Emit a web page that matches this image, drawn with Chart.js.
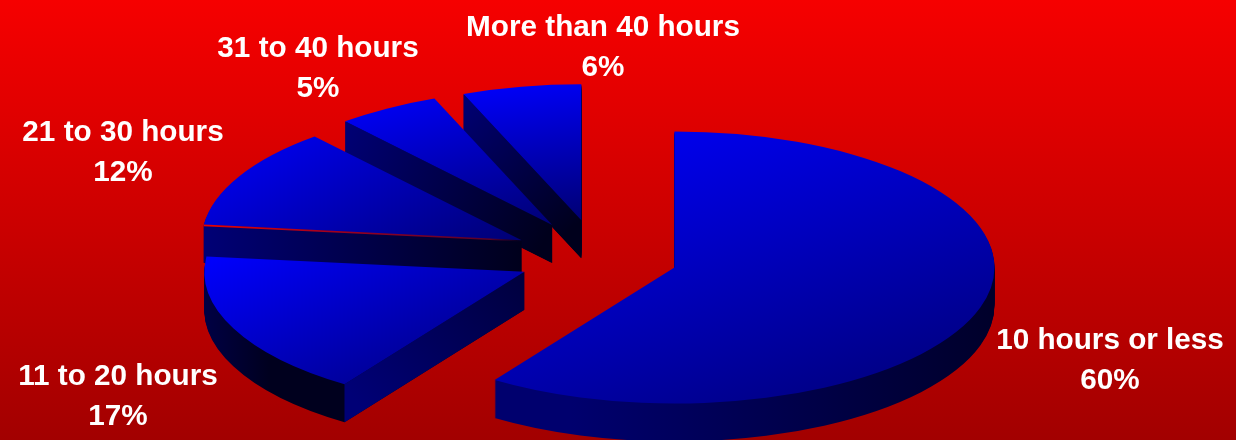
<!DOCTYPE html>
<html>
<head>
<meta charset="utf-8">
<style>
  html, body { margin: 0; padding: 0; background: #c00; }
  #box { width: 1236px; height: 440px; }
</style>
<script src="https://cdn.jsdelivr.net/npm/chart.js@4"></script>
</head>
<body>
<div id="box"><canvas id="pie"></canvas></div>
<script>
const categories = ["10 hours or less", "11 to 20 hours", "21 to 30 hours", "31 to 40 hours", "More than 40 hours"];
// the labels show them rounded
const shares = [59.5, 17.3, 12, 5.2, 6];

// how the flat pie gets tilted and pulled apart
const squash = 0.425;
const depth = 38;
const explode = [80, 81, 86.5, 89, 89];
// label centre x and first baseline
const labelSpots = [[1110, 349], [118, 385], [123, 141], [318, 57], [603, 36]];
const seamSlice = 2;

function bbox(arc) {
    const xs = [Math.cos(arc.startAngle), Math.cos(arc.endAngle), 0];
    const ys = [Math.sin(arc.startAngle), Math.sin(arc.endAngle), 0];
    for (let a = -Math.PI; a <= 2 * Math.PI; a += Math.PI / 2) {
        if (a > arc.startAngle && a < arc.endAngle) {
            xs.push(Math.cos(a));
            ys.push(Math.sin(a));
        }
    }
    const r = arc.outerRadius;
    return {
        x0: arc.x + Math.min(...xs) * r, x1: arc.x + Math.max(...xs) * r,
        y0: arc.y + Math.min(...ys) * r, y1: arc.y + Math.max(...ys) * r
    };
}

function drawArc(ctx, arc, i, drop, fill) {
    const mid = (arc.startAngle + arc.endAngle) / 2;
    const copy = Object.create(arc);
    copy.options = {
        backgroundColor: fill, borderColor: "transparent", borderWidth: 0,
        borderAlign: "center", borderRadius: 0, offset: 0, spacing: 0, circular: true
    };
    ctx.save();
    ctx.translate(arc.x, arc.y + drop);
    ctx.scale(1, squash);
    ctx.translate(-arc.x, -arc.y);
    ctx.translate(Math.cos(mid) * explode[i], Math.sin(mid) * explode[i]);
    copy.draw(ctx);
    ctx.restore();
}

function screenPoint(arc, i, ang, r, drop) {
    const mid = (arc.startAngle + arc.endAngle) / 2;
    return {
        x: arc.x + Math.cos(mid) * explode[i] + Math.cos(ang) * r,
        y: arc.y + (Math.sin(mid) * explode[i] + Math.sin(ang) * r) * squash + drop
    };
}

function drawCut(ctx, arc, i, ang) {
    const a = screenPoint(arc, i, ang, 0, 0);
    const b = screenPoint(arc, i, ang, arc.outerRadius, 0);
    const g = ctx.createLinearGradient(b.x, b.y, a.x, a.y);
    g.addColorStop(0, "rgb(0,0,118)");
    g.addColorStop(1, i === 1 ? "rgb(0,0,62)" : "rgb(0,0,28)");
    ctx.fillStyle = g;
    ctx.beginPath();
    ctx.moveTo(a.x, a.y);
    ctx.lineTo(b.x, b.y);
    ctx.lineTo(b.x, b.y + depth);
    ctx.lineTo(a.x, a.y + depth);
    ctx.closePath();
    ctx.fill();
}

const tiltedPie = {
    id: "tiltedPie",
    beforeDraw(chart) {
        const ctx = chart.ctx;
        const g = ctx.createLinearGradient(0, 0, 0, chart.height);
        g.addColorStop(0, "rgb(246,0,0)");
        g.addColorStop(1, "rgb(162,0,0)");
        ctx.fillStyle = g;
        ctx.fillRect(0, 0, chart.width, chart.height);
    },
    // default arc drawing is replaced, the arcs themselves still come from the controller
    beforeDatasetsDraw(chart) {
        const ctx = chart.ctx;
        const arcs = chart.getDatasetMeta(0).data;
        const order = [4, 3, 2, 1, 0];
        order.forEach(i => {
            const arc = arcs[i];
            const box = bbox(arc);

            // rim wall, only the part facing us sets the gradient span
            const lowStart = screenPoint(arc, i, Math.min(arc.endAngle, Math.PI), arc.outerRadius, 0);
            const lowEnd = screenPoint(arc, i, arc.startAngle < 0 && arc.endAngle > 0 ? 0 : Math.max(arc.startAngle, Math.PI / 2), arc.outerRadius, 0);
            const wall = ctx.createLinearGradient(lowStart.x, 0, lowEnd.x, 0);
            wall.addColorStop(0, "rgb(0,0,110)");
            wall.addColorStop(1, "rgb(0,0,30)");
            for (let d = depth; d > 0; d--) {
                drawArc(ctx, arc, i, d, wall);
            }

            // straight cut faces that turn toward the viewer
            if (Math.cos(arc.startAngle) < -0.001 || (i > 0 && Math.cos(arc.startAngle) > 0)) {
                drawCut(ctx, arc, i, arc.startAngle);
            }

            const top = ctx.createLinearGradient(box.x0, box.y0, box.x1, box.y1);
            top.addColorStop(0, "rgb(0,0,255)");
            top.addColorStop(1, "rgb(0,0,115)");
            drawArc(ctx, arc, i, 0, top);

            if (i === seamSlice) {
                const a = screenPoint(arc, i, arc.startAngle, 0, 0.5);
                const b = screenPoint(arc, i, arc.startAngle, arc.outerRadius, 0.5);
                const s = ctx.createLinearGradient(b.x, 0, a.x, 0);
                s.addColorStop(0, "rgba(235,0,0,1)");
                s.addColorStop(0.9, "rgba(150,0,40,0.6)");
                s.addColorStop(1, "rgba(100,0,60,0)");
                ctx.strokeStyle = s;
                ctx.lineWidth = 1.6;
                ctx.beginPath();
                ctx.moveTo(b.x, b.y);
                ctx.lineTo(a.x, a.y);
                ctx.stroke();
            }
        });
        return false;
    },
    afterDraw(chart) {
        const ctx = chart.ctx;
        ctx.save();
        ctx.fillStyle = "#fff";
        ctx.textAlign = "center";
        ctx.textBaseline = "alphabetic";
        ctx.font = 'bold 29.7px "Liberation Sans"';
        categories.forEach((name, i) => {
            const [x, y] = labelSpots[i];
            ctx.fillText(name, x, y);
            ctx.fillText(Math.round(shares[i]) + "%", x, y + 40);
        });
        ctx.restore();
    }
};

new Chart(document.getElementById("pie").getContext("2d"), {
    type: "pie",
    data: {
        labels: categories,
        datasets: [{ data: shares, backgroundColor: "#0000ff", borderWidth: 0 }]
    },
    options: {
        responsive: true,
        maintainAspectRatio: false,
        animation: false,
        radius: 320,
        layout: { padding: { right: 40, top: 75 } },
        plugins: { legend: { display: false }, tooltip: { enabled: false } }
    },
    plugins: [tiltedPie]
});
</script>
</body>
</html>
